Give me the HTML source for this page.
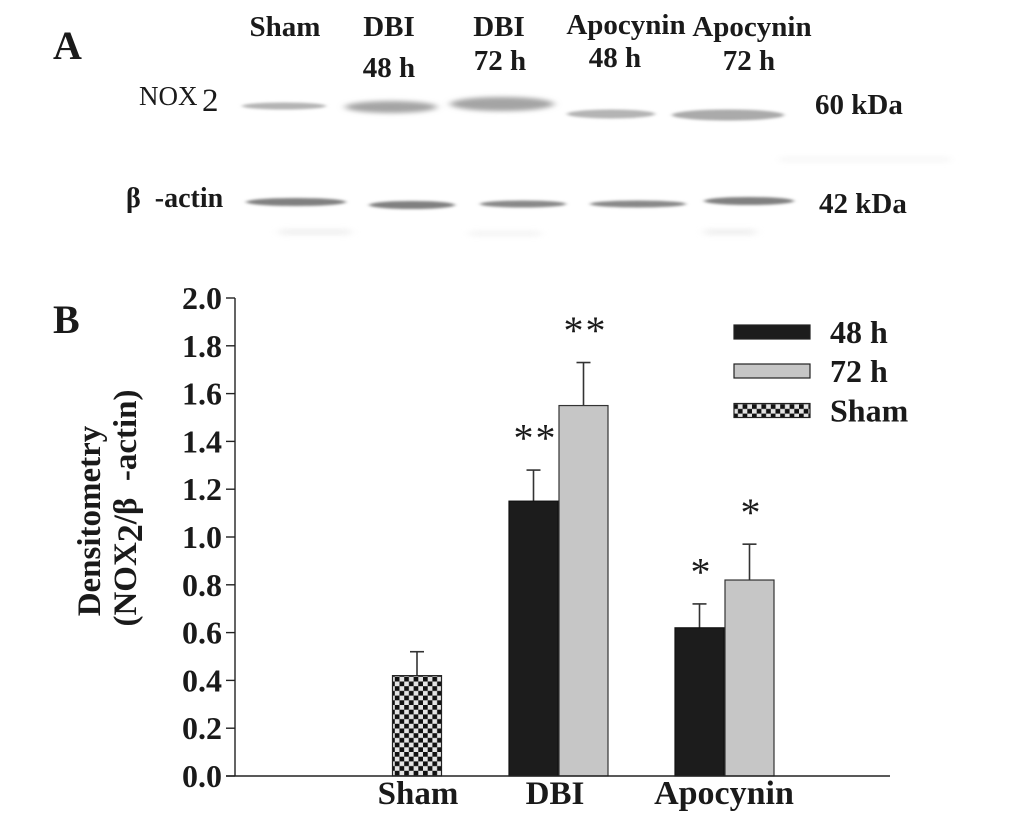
<!DOCTYPE html>
<html>
<head>
<meta charset="utf-8">
<style>
html,body{margin:0;padding:0;background:#fff;}
svg{display:block;}
text{font-family:"Liberation Serif",serif;font-weight:bold;fill:#1a1a1a;white-space:pre;}
</style>
</head>
<body>
<svg id="fig" width="1033" height="820" viewBox="0 0 1033 820" xmlns="http://www.w3.org/2000/svg">
<defs>
<filter id="b3" x="-20%" y="-200%" width="140%" height="500%"><feGaussianBlur stdDeviation="4 2.5"/></filter>
<filter id="b1" x="-20%" y="-200%" width="140%" height="500%"><feGaussianBlur stdDeviation="2 1.2"/></filter>
<filter id="b6" x="-20%" y="-400%" width="140%" height="900%"><feGaussianBlur stdDeviation="5 3"/></filter>
<pattern id="checker" width="9.4" height="9.4" patternUnits="userSpaceOnUse">
<rect width="9.4" height="9.4" fill="#e4e4e4"/>
<rect width="4.7" height="4.7" fill="#111"/>
<rect x="4.7" y="4.7" width="4.7" height="4.7" fill="#111"/>
</pattern>
</defs>

<g>
<text x="53" y="59" font-size="40">A</text>
<g font-size="29" text-anchor="middle">
<text x="285" y="36">Sham</text>
<text x="389" y="36">DBI</text>
<text x="389" y="77">48 h</text>
<text x="499" y="36">DBI</text>
<text x="500" y="70">72 h</text>
<text x="626" y="34">Apocynin</text>
<text x="615" y="67">48 h</text>
<text x="752" y="36">Apocynin</text>
<text x="749" y="70">72 h</text>
</g>
<text x="139" y="105" font-size="27" style="font-weight:normal">NOX<tspan x="202" font-size="33" dy="6">2</tspan></text>
<text x="126" y="207" font-size="28">β  -actin</text>
<text x="815" y="114" font-size="29">60 kDa</text>
<text x="819" y="213" font-size="29">42 kDa</text>
<g>
<ellipse cx="284" cy="106" rx="42" ry="3.5" fill="#b4b4b4" filter="url(#b1)"/>
<ellipse cx="391" cy="107" rx="46" ry="6" fill="#a4a4a4" filter="url(#b3)"/>
<ellipse cx="502" cy="104" rx="52" ry="7" fill="#a4a4a4" filter="url(#b3)"/>
<ellipse cx="611" cy="114" rx="44" ry="4.5" fill="#b4b4b4" filter="url(#b1)"/>
<ellipse cx="728" cy="115" rx="56" ry="5.5" fill="#aaa" filter="url(#b1)"/>
</g>
<g>
<ellipse cx="296" cy="202" rx="50" ry="4" fill="#808080" filter="url(#b1)"/>
<ellipse cx="412" cy="205" rx="43" ry="4" fill="#808080" filter="url(#b1)"/>
<ellipse cx="523" cy="204" rx="43" ry="3.5" fill="#888" filter="url(#b1)"/>
<ellipse cx="638" cy="204" rx="48" ry="3.5" fill="#888" filter="url(#b1)"/>
<ellipse cx="749" cy="201" rx="45" ry="4" fill="#808080" filter="url(#b1)"/>
</g>
<g opacity="0.9">
<rect x="280" y="230" width="70" height="4" fill="#e6e6e6" filter="url(#b6)"/>
<rect x="470" y="232" width="70" height="3" fill="#e8e8e8" filter="url(#b6)"/>
<rect x="705" y="230" width="50" height="4" fill="#e4e4e4" filter="url(#b6)"/>
<rect x="780" y="158" width="170" height="3" fill="#efefef" filter="url(#b6)"/>
</g>
</g>

<text x="53" y="333" font-size="40">B</text>
<g id="chart"></g>
<g>
<text transform="translate(100 521) rotate(-90)" font-size="33" text-anchor="middle">Densitometry</text>
<text transform="translate(136 508) rotate(-90)" font-size="33" text-anchor="middle">(NOX<tspan font-size="36" dy="6">2</tspan><tspan dy="-6">/β  -actin)</tspan></text>
</g>
</svg>

<script>
const tickLabels = ["0.0","0.2","0.4","0.6","0.8","1.0","1.2","1.4","1.6","1.8","2.0"];
const tickValues = [0,0.2,0.4,0.6,0.8,1.0,1.2,1.4,1.6,1.8,2.0];
const categories = ["Sham","DBI","Apocynin"];
const shamValues = [0.42,null,null];
const shamErrors = [0.10,null,null];
const values48h = [null,1.15,0.62];
const errors48h = [null,0.13,0.10];
const values72h = [null,1.55,0.82];
const errors72h = [null,0.18,0.15];
const stars48h = ["","**","*"];
const stars72h = ["","**","*"];
const legendLabels = ["48 h","72 h","Sham"];

const NS = "http://www.w3.org/2000/svg";
const chart = document.getElementById("chart");
const X0 = 235, XEND = 890, Y0 = 776, YTOP = 298;
const BAR = 50;
const centers = [417, 558.5, 724.5];
const labelX = [418, 555, 724];

function yScale(v){ return Y0 - (v / 2.0) * (Y0 - YTOP); }
function make(tag, attrs, parent){
  const el = document.createElementNS(NS, tag);
  for (const k in attrs) el.setAttribute(k, attrs[k]);
  (parent || chart).appendChild(el);
  return el;
}
function drawBar(name, x, value, err, fill, stroke){
  const g = make("g", {});
  
  
  const top = yScale(value), etop = yScale(value + err), cx = x + BAR / 2;
  const stem = make("line", {x1:cx, x2:cx, y1:top, y2:etop, stroke:"#333", "stroke-width":1.6}, g);
  
  
  const cap = make("line", {x1:cx-7, x2:cx+7, y1:etop, y2:etop, stroke:"#333", "stroke-width":1.6}, g);
  
  
  const r = make("rect", {x:x+0.5, y:top, width:BAR-1, height:Y0-top, fill:fill, stroke:stroke, "stroke-width":1.2}, g);
  
  
}
function drawStar(str, cx, value, err){
  if (!str) return;
  const t = make("text", {x:cx, y:yScale(value + err) - 4, "text-anchor":"middle", "font-size":40, style:"font-weight:normal;letter-spacing:2px"});
  t.textContent = str;
  
  
}

categories.forEach(function(cat, i){
  if (shamValues[i] !== null) {
    drawBar("bar-sham", centers[i] - BAR / 2, shamValues[i], shamErrors[i], "url(#checker)", "#222");
  }
  if (values48h[i] !== null) {
    drawBar("bar-48h", centers[i] - BAR, values48h[i], errors48h[i], "#1c1c1c", "#111");
    drawStar(stars48h[i], centers[i] - BAR / 2 + 2, values48h[i], errors48h[i] + 0.06);
  }
  if (values72h[i] !== null) {
    drawBar("bar-72h", centers[i], values72h[i], errors72h[i], "#c6c6c6", "#333");
    drawStar(stars72h[i], centers[i] + BAR / 2 + 2, values72h[i], errors72h[i] + 0.06);
  }
  const lab = make("text", {x:labelX[i], y:804, "text-anchor":"middle", "font-size": cat.length > 4 ? 34 : 33});
  lab.textContent = cat;
  
  
});

const yAxis = make("line", {x1:X0, x2:X0, y1:YTOP, y2:Y0+0.5, stroke:"#222", "stroke-width":1.4});


const xAxis = make("line", {x1:X0-9, x2:XEND, y1:Y0, y2:Y0, stroke:"#222", "stroke-width":1.4});



tickValues.forEach(function(v, i){
  const y = yScale(v);
  const t = make("line", {x1:X0-9, x2:X0, y1:y, y2:y, stroke:"#222", "stroke-width":1.4});
  
  
  const l = make("text", {x:222, y:y+11, "text-anchor":"end", "font-size":32});
  l.textContent = tickLabels[i];
  
  
});

const legendFills = ["#1c1c1c","#c6c6c6","url(#checker)"];
const legendRows = [332.5, 371.5, 411];
legendLabels.forEach(function(lbl, i){
  const r = make("rect", {x:734, y:legendRows[i]-7.5, width:76, height:14, fill:legendFills[i], stroke:"#222", "stroke-width":1.2});
  
  
  const t = make("text", {x:830, y:legendRows[i]+10.5, "font-size":32});
  t.textContent = lbl;
  
  
});
</script>
</body>
</html>
